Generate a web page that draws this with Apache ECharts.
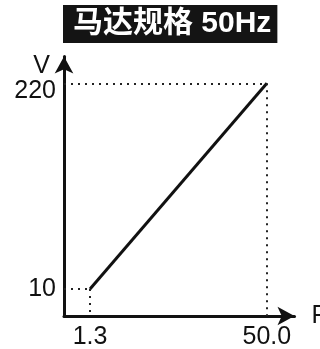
<!DOCTYPE html>
<html style="height: 100%">
<head>
<meta charset="utf-8">
<script src="https://cdn.jsdelivr.net/npm/echarts@6/dist/echarts.min.js"></script>
</head>
<body style="height: 100%; margin: 0; background: #fff">
<div id="container" style="width: 320px; height: 349px"></div>
<script type="text/javascript">
// 数据
var freq = [1.3, 50.0];      // F
var volt = [10, 220];        // V
var xTicks = [1.3, 50.0];
var yTicks = [10, 220];

var xMin = -5.86, xMax = 57.6;
var yMin = -17.6, yMax = 247.4;

var myChart = echarts.init(document.getElementById('container'));
var font = 'Liberation Sans, Arial, Noto Sans CJK SC';

var dotted = { color: '#222', width: 2, type: [2, 5] };
var guides = [];
for (var i = 0; i < freq.length; i++) {
    guides.push([{ coord: [xMin, volt[i]] }, { coord: [freq[i], volt[i]] }]);
    guides.push([{ coord: [freq[i], volt[i]] }, { coord: [freq[i], yMin] }]);
}

var option = {
    animation: false,
    title: {
        text: '马达规格 50Hz',
        left: 63,
        top: 5,
        backgroundColor: '#141414',
        padding: [4, 6, 4, 10],
        textStyle: { color: '#fff', fontSize: 30, fontWeight: 'bold', fontFamily: font, lineHeight: 30 }
    },
    grid: { left: 64, right: 25.5, top: 56.5, bottom: 33, containLabel: false, outerBoundsMode: 'none' },
    xAxis: {
        type: 'value',
        min: xMin,
        max: xMax,
        name: 'F',
        nameLocation: 'end',
        nameGap: 17,
        nameTextStyle: { color: '#111', fontSize: 25, fontFamily: font, padding: [8, 0, 0, 0] },
        axisLine: { onZero: false, lineStyle: { color: '#111', width: 3 }, symbol: ['none', 'arrow'], symbolSize: [14, 17] },
        axisTick: { show: false },
        splitLine: { show: false },
        axisLabel: {
            customValues: xTicks,
            color: '#111', fontSize: 25, fontFamily: font, margin: 9,
            formatter: function (v) { return v.toFixed(1); }
        }
    },
    yAxis: {
        type: 'value',
        min: yMin,
        max: yMax,
        name: 'V',
        nameLocation: 'end',
        nameGap: -14,
        nameTextStyle: { color: '#111', fontSize: 25, fontFamily: font, align: 'right', verticalAlign: 'middle', padding: [0, 14, 0, 0] },
        axisLine: { onZero: false, lineStyle: { color: '#111', width: 3 }, symbol: ['none', 'arrow'], symbolSize: [14, 17] },
        axisTick: { show: false },
        splitLine: { show: false },
        axisLabel: {
            customValues: yTicks,
            color: '#111', fontSize: 25, fontFamily: font, margin: 8,
            formatter: function (v) { return v === 220 ? '{t|' + v + '}' : '{b|' + v + '}'; },
            rich: {
                t: { fontSize: 25, fontFamily: font, color: '#111', padding: [16, 0, 0, 0] },
                b: { fontSize: 25, fontFamily: font, color: '#111' }
            }
        }
    },
    series: [{
        type: 'line',
        data: freq.map(function (f, i) { return [f, volt[i]]; }),
        symbol: 'none',
        lineStyle: { color: '#111', width: 3 },
        markLine: {
            silent: true,
            symbol: 'none',
            label: { show: false },
            lineStyle: dotted,
            data: guides
        },
        z: 3
    }]
};
myChart.setOption(option);
</script>
</body>
</html>
